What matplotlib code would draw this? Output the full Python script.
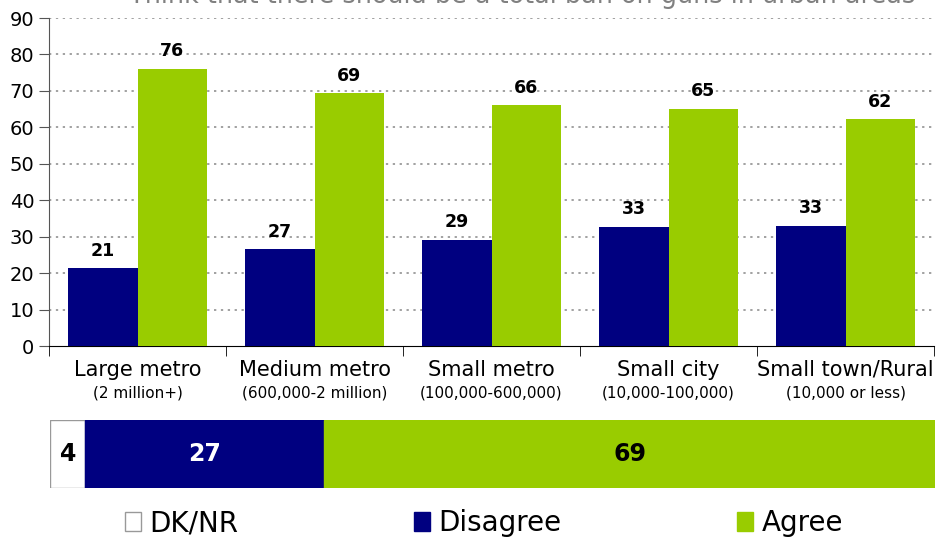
import numpy as np
import matplotlib
matplotlib.use("Agg")
import matplotlib.pyplot as plt

plt.rcParams['font.family'] = ['DejaVu Sans']

title = "Think that there should be a total ban on guns in urban areas"
categories = ["Large metro", "Medium metro", "Small metro", "Small city", "Small town/Rural"]
sublabels = ["(2 million+)", "(600,000-2 million)", "(100,000-600,000)", "(10,000-100,000)", "(10,000 or less)"]
disagree = [21, 27, 29, 33, 33]
agree = [76, 69, 66, 65, 62]
disagree_heights = [21.3, 26.5, 29.2, 32.7, 33.0]
agree_heights = [76.1, 69.4, 66.0, 65.1, 62.3]

overall_labels = ["DK/NR", "Disagree", "Agree"]
overall_values = [4, 27, 69]

navy = "#000080"
green = "#99CC00"

fig = plt.figure(figsize=(9.38, 5.4), dpi=100)

# main grouped bar chart
ax = fig.add_axes([49/938, 1-346/540, 885/938, 328/540])
x = np.arange(len(categories))
w = 0.39
b1 = ax.bar(x - w/2, disagree_heights, w, color=navy, zorder=3)
b2 = ax.bar(x + w/2, agree_heights, w, color=green, zorder=3)
ax.bar_label(b1, labels=[str(v) for v in disagree], padding=6, fontsize=12.5, fontweight='bold')
ax.bar_label(b2, labels=[str(v) for v in agree], padding=6, fontsize=12.5, fontweight='bold')

ax.set_xlim(-0.5, len(categories) - 0.5)
ax.set_ylim(0, 90)
ax.set_yticks(range(0, 91, 10))
ax.tick_params(axis='y', labelsize=14, length=7, direction='out', color='#555555')
for yv in range(10, 91, 10):
    ax.axhline(yv, color='#888888', lw=1.1, ls=(0, (1.5, 3)), zorder=1)

ax.set_xticks([])
ax.set_xticks(np.arange(-0.5, len(categories)), minor=True)
ax.tick_params(axis='x', which='minor', length=7, direction='out', color='black')
ax.spines['top'].set_visible(False)
ax.spines['right'].set_visible(False)
ax.spines['left'].set_color('#555555')
ax.spines['bottom'].set_color('black')

for i, (c, s) in enumerate(zip(categories, sublabels)):
    ax.text(i, -0.073, c, transform=ax.get_xaxis_transform(), ha='center', va='center', fontsize=15)
    ax.text(i, -0.143, s, transform=ax.get_xaxis_transform(), ha='center', va='center', fontsize=11)

# overall stacked bar
ax2 = fig.add_axes([50/938, 1-488/540, 885/938, 68/540])
colors = ["white", navy, green]
edges = ["#999999", navy, green]
txt_colors = ["black", "white", "black"]
left = 0
handles = []
for lab, v, c, e, tc in zip(overall_labels, overall_values, colors, edges, txt_colors):
    h = ax2.barh(0, v, left=left, height=1, color=c, edgecolor=e, lw=1, label=lab)
    handles.append(h)
    ax2.text(left + v/2, 0, str(v), ha='center', va='center', fontsize=17, fontweight='bold', color=tc)
    left += v
ax2.set_xlim(0, 100)
ax2.set_ylim(-0.5, 0.5)
ax2.axis('off')

fig.legend(handles=handles, labels=overall_labels, loc='center', bbox_to_anchor=(484/938, 1-523/540),
           ncol=3, frameon=False, fontsize=20, handlelength=0.6, handleheight=0.7,
           handletextpad=0.3, columnspacing=6.3, borderaxespad=0)

# title sits partly above the top edge, as in the source image
fig.text(522/938, 1-3/540, title, ha='center', va='baseline', color='#808080', fontsize=18.4)

fig.savefig("out.png", dpi=100)
